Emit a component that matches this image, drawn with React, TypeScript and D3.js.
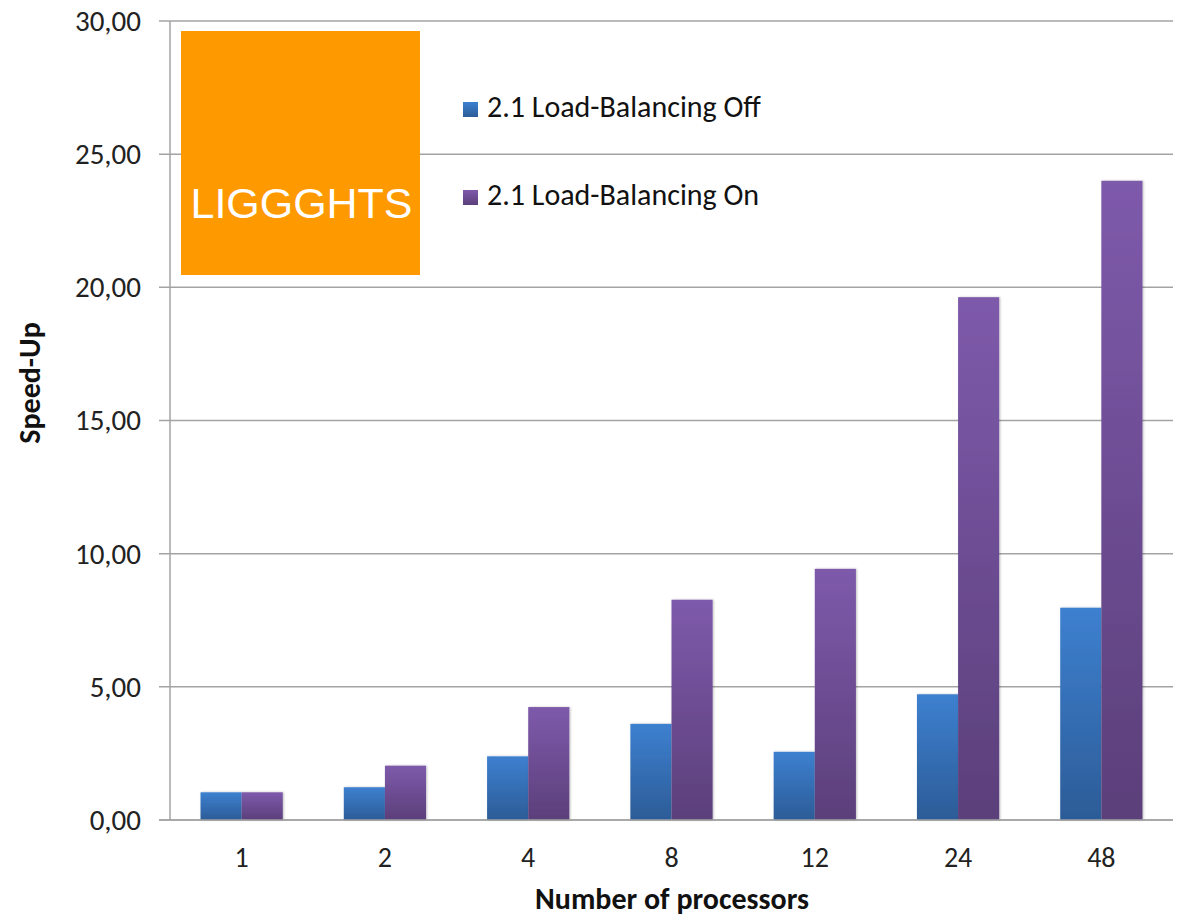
import React from "react";
import * as d3 from "d3";

const categories = ["1", "2", "4", "8", "12", "24", "48"];
const seriesNames = ["2.1 Load-Balancing Off", "2.1 Load-Balancing On"];
const balancingOff = [1.04, 1.23, 2.39, 3.61, 2.56, 4.72, 7.97];
const balancingOn = [1.04, 2.04, 4.24, 8.27, 9.43, 19.63, 24.0];
const yTicks = [0, 5, 10, 15, 20, 25, 30];

const W = 1178;
const H = 917;
const M = { left: 170, right: 5, top: 21, bottom: 97 };

export default function App() {
  const x = d3
    .scaleBand<string>()
    .domain(categories)
    .range([M.left, W - M.right])
    .paddingInner(0)
    .paddingOuter(0);
  const y = d3.scaleLinear().domain([0, 30]).range([H - M.bottom, M.top]);
  const barW = x.bandwidth() * 0.287;
  const fmt = (v: number) => v.toFixed(2).replace(".", ",");
  const series = [
    { name: seriesNames[0], values: balancingOff, grad: "gBlue" },
    { name: seriesNames[1], values: balancingOn, grad: "gPurple" },
  ];
  const font = "Carlito, Calibri, Lato, 'Open Sans', sans-serif";

  return (
    <svg width={W} height={H} style={{ position: "absolute", left: 0, top: 0, background: "#fff" }}>
      <defs>
        <linearGradient id="gBlue" x1="0" y1="0" x2="0" y2="1">
          <stop offset="0" stopColor="#3d80d0" />
          <stop offset="1" stopColor="#2c5c97" />
        </linearGradient>
        <linearGradient id="gPurple" x1="0" y1="0" x2="0" y2="1">
          <stop offset="0" stopColor="#7e5aab" />
          <stop offset="1" stopColor="#5b3f7a" />
        </linearGradient>
        <filter id="shadow" x="-20%" y="-5%" width="140%" height="110%">
          <feDropShadow dx="1" dy="0" stdDeviation="1" floodColor="#000" floodOpacity="0.25" />
        </filter>
      </defs>

      {/* gridlines and tick marks */}
      {yTicks.map((t) => (
        <g key={t}>
          <line x1={M.left - 11} x2={W - M.right} y1={y(t)} y2={y(t)} stroke="#a3a3a3" strokeWidth={1.5} />
          <text
            x={141}
            y={y(t)}
            dy="0.34em"
            textAnchor="end"
            fontFamily={font}
            fontSize={29}
            fill="#222"
          >
            {fmt(t)}
          </text>
        </g>
      ))}
      <line x1={M.left} x2={M.left} y1={M.top} y2={y(0)} stroke="#a3a3a3" strokeWidth={1.5} />

      {/* bars */}
      {series.map((s, si) =>
        s.values.map((v, i) => {
          const cx = (x(categories[i]) as number) + x.bandwidth() / 2;
          const bx = si === 0 ? cx - barW : cx;
          return (
            <rect
              key={`${si}-${i}`}
              x={bx}
              y={y(v)}
              width={barW}
              height={y(0) - y(v)}
              fill={`url(#${s.grad})`}
              filter="url(#shadow)"
            />
          );
        })
      )}
      <line x1={M.left - 11} x2={W - M.right} y1={y(0)} y2={y(0)} stroke="#a3a3a3" strokeWidth={1.5} />

      {/* category labels */}
      {categories.map((c) => (
        <text
          key={c}
          x={(x(c) as number) + x.bandwidth() / 2}
          y={867}
          textAnchor="middle"
          fontFamily={font}
          fontSize={28}
          fill="#222"
        >
          {c}
        </text>
      ))}

      {/* axis titles */}
      <text
        x={672}
        y={909}
        textAnchor="middle"
        fontFamily={font}
        fontWeight="bold"
        fontSize={30}
        fill="#111"
      >
        Number of processors
      </text>
      <text
        transform={`translate(30,383) rotate(-90)`}
        dy="0.34em"
        textAnchor="middle"
        fontFamily={font}
        fontWeight="bold"
        fontSize={30}
        fill="#111"
      >
        Speed-Up
      </text>

      {/* logo */}
      <rect x={181} y={31} width={239} height={244} fill="#ff9900" />
      <text
        x={301.5}
        y={218}
        textAnchor="middle"
        fontFamily="'Liberation Sans', Arial, sans-serif"
        fontSize={43}
        fill="#fff"
        textLength={222}
        lengthAdjust="spacingAndGlyphs"
      >
        LIGGGHTS
      </text>

      {/* legend */}
      {series.map((s, si) => (
        <g key={s.name} transform={`translate(463,${117 + si * 88})`}>
          <rect x={0} y={-15} width={15} height={15} fill={`url(#${s.grad})`} />
          <text x={24} y={0} fontFamily={font} fontSize={30} fill="#111">
            {s.name}
          </text>
        </g>
      ))}
    </svg>
  );
}
